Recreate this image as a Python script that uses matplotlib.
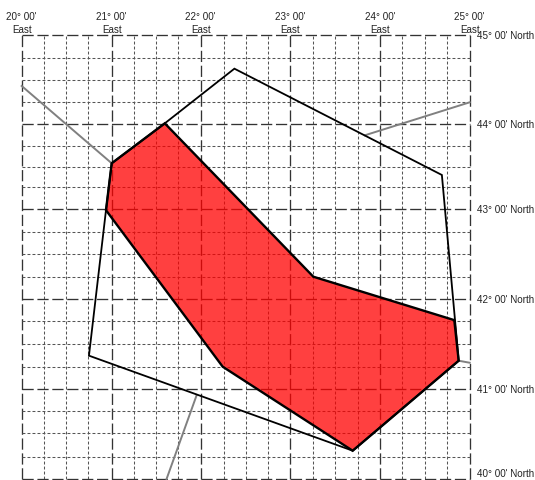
import numpy as np
import matplotlib
matplotlib.use("Agg")
import matplotlib.pyplot as plt
from matplotlib.ticker import FixedLocator

plt.rcParams['font.family'] = ['Liberation Sans', 'DejaVu Sans']

# Graticule: the map projection leaves the parallels and meridians unevenly spaced
lon_grid = np.arange(20, 25.01, 0.25)
lon_pos = [21.7, 44, 66, 88.3, 111.7, 133.7, 156, 178, 200.7, 223.7, 246, 268.3,
           290, 312.7, 335.3, 357.7, 380, 402.3, 424.7, 447.3, 469.7]
lat_grid = np.arange(40, 45.01, 0.25)
lat_pos = [0, 22.3, 45.7, 67.7, 89.7, 112.3, 135.3, 158, 179.7, 202.3, 225,
           247.3, 269.7, 292, 312.3, 332.7, 354.7, 376.7, 399, 421.3, 443.7]

major_lon = [20, 21, 22, 23, 24, 25]
major_lat = [40, 41, 42, 43, 44, 45]
lon_labels = ["20° 00'\nEast", "21° 00'\nEast", "22° 00'\nEast",
              "23° 00'\nEast", "24° 00'\nEast", "25° 00'\nEast"]
lat_labels = ["40° 00' North", "41° 00' North", "42° 00' North",
              "43° 00' North", "44° 00' North", "45° 00' North"]

outer_lon = [22.37, 24.69, 24.877, 23.694, 20.757, 20.939, 21.0, 21.60]
outer_lat = [44.627, 43.398, 41.315, 40.314, 41.37, 42.99, 43.542, 44.011]

red_lon = [21.60, 23.257, 24.828, 24.877, 23.694, 22.239, 20.939, 21.0]
red_lat = [44.011, 42.25, 41.76, 41.315, 40.314, 41.25, 42.99, 43.542]

road1_lon = [20.0, 21.0]
road1_lat = [44.433, 43.542]
road2_lon = [23.83, 25.0]
road2_lat = [43.875, 44.25]
road3_lon = [24.877, 25.0]
road3_lat = [41.315, 41.293]
road4_lon = [21.956, 21.62]
road4_lat = [40.935, 40.0]

W, H = 535, 480
fig = plt.figure(figsize=(W / 100, H / 100), dpi=100, facecolor='white')
left, right, top, bottom = 21.7, 469.7, 35.3, 479.0
ax = fig.add_axes([left / W, 1 - bottom / H, (right - left) / W, (bottom - top) / H])

ax.set_xscale('function', functions=(lambda v: np.interp(v, lon_grid, lon_pos),
                                     lambda v: np.interp(v, lon_pos, lon_grid)))
ax.set_yscale('function', functions=(lambda v: np.interp(v, lat_grid, lat_pos),
                                     lambda v: np.interp(v, lat_pos, lat_grid)))
ax.set_xlim(20, 25)
ax.set_ylim(40, 45)

ax.xaxis.set_major_locator(FixedLocator(major_lon))
ax.yaxis.set_major_locator(FixedLocator(major_lat))
ax.xaxis.set_minor_locator(FixedLocator([v for v in lon_grid if v not in major_lon]))
ax.yaxis.set_minor_locator(FixedLocator([v for v in lat_grid if v not in major_lat]))
ax.set_xticklabels(lon_labels)
ax.set_yticklabels(lat_labels)

ax.xaxis.tick_top()
ax.yaxis.tick_right()
ax.tick_params(which='both', length=0)
ax.tick_params(axis='x', which='major', labelsize=7.1, pad=0.5, labelcolor='#222222')
ax.tick_params(axis='y', which='major', labelsize=7.1, pad=5, labelcolor='#222222')
for t in ax.get_xticklabels():
    t.set_linespacing(1.3)
ax.get_yticklabels()[0].set_va('bottom')

for s in ax.spines.values():
    s.set_visible(False)

ax.set_axisbelow(True)
ax.grid(which='minor', color='#555555', lw=0.75, ls=(0, (2.8, 2.0)))
ax.grid(which='major', color='#333333', lw=0.95, ls=(0, (8.5, 2.8)))
for ln in ax.get_xgridlines() + ax.get_ygridlines():
    ln.set_clip_on(False)
for axis in (ax.xaxis, ax.yaxis):
    for tk in axis.get_minor_ticks():
        tk.gridline.set_clip_on(False)

for lo, la in [(road1_lon, road1_lat), (road2_lon, road2_lat),
               (road3_lon, road3_lat), (road4_lon, road4_lat)]:
    ax.plot(lo, la, color='#808080', lw=1.4, zorder=2, clip_on=False)

ax.fill(red_lon, red_lat, facecolor='#ff0000', alpha=0.75, edgecolor='none', zorder=3)
ax.fill(red_lon, red_lat, facecolor='none', edgecolor='black', lw=1.7, zorder=4)
ax.fill(outer_lon, outer_lat, facecolor='none', edgecolor='black', lw=1.3, zorder=4)

fig.savefig('out.png', dpi=100, facecolor='white')
